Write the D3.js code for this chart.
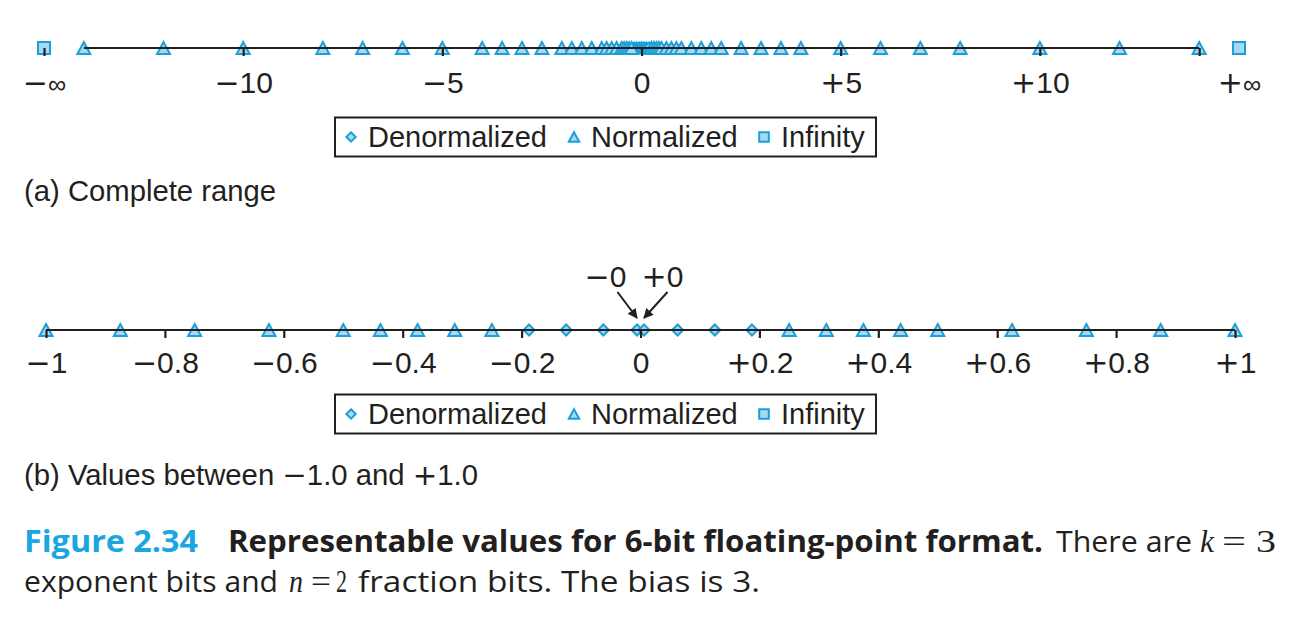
<!DOCTYPE html>
<html><head><meta charset="utf-8">
<script src="https://cdn.jsdelivr.net/npm/d3@7"></script>
<style>
body{margin:0;background:#fff;}
svg{display:block;}
</style></head>
<body>
<svg id="c" width="1314" height="618"></svg>
<script>
// ---- data ----
const denormValues = [-0.1875, -0.125, -0.0625, -0, 0, 0.0625, 0.125, 0.1875];
const normValues = [-14, -12, -10, -8, -7, -6, -5, -4, -3.5, -3, -2.5, -2, -1.75, -1.5, -1.25, -1,
  -0.875, -0.75, -0.625, -0.5, -0.4375, -0.375, -0.3125, -0.25,
  0.25, 0.3125, 0.375, 0.4375, 0.5, 0.625, 0.75, 0.875,
  1, 1.25, 1.5, 1.75, 2, 2.5, 3, 3.5, 4, 5, 6, 7, 8, 10, 12, 14];
const infinityValues = [-Infinity, Infinity];
const legendItems = ["Denormalized", "Normalized", "Infinity"];

const tickMarksA = [-15, -10, -5, 0, 5, 10, 14];
const tickLabelPosA = [-15, -10, -5, 0, 5, 10, 15];
const tickLabelsA = ["\u2212\u221e", "\u221210", "\u22125", "0", "+5", "+10", "+\u221e"];
const tickValsB = [-1, -0.8, -0.6, -0.4, -0.2, 0, 0.2, 0.4, 0.6, 0.8, 1];
const tickLabelsB = ["\u22121", "\u22120.8", "\u22120.6", "\u22120.4", "\u22120.2", "0",
  "+0.2", "+0.4", "+0.6", "+0.8", "+1"];

// ---- style ----
const STROKE = "#1a9fdb", FILL = "#a6d8f0", INK = "#231f20";
const FONT = "'Liberation Sans', Arial, sans-serif";
const SIGNFONT = "'DejaVu Sans', sans-serif";
const svg = d3.select("#c");

// split a leading sign into its own wider-glyph tspan
function signed(sel, str) {
  sel.text(null);
  const first = str.charAt(0);
  if (first === "\u2212" || first === "+") {
    sel.append("tspan").attr("font-family", SIGNFONT).text(first);
    const rest = str.slice(1);
    const t = sel.append("tspan").text(rest);
    if (rest === "\u221e") t.attr("font-size", "0.85em");
  } else sel.text(str);
}

// arrow marker
svg.append("defs").append("marker").attr("id", "ah").attr("viewBox", "0 0 10 10")
  .attr("refX", 9).attr("refY", 5).attr("markerWidth", 10).attr("markerHeight", 10)
  .attr("markerUnits", "userSpaceOnUse").attr("orient", "auto")
  .append("path").attr("d", "M0,0 L10,5 L0,10 Z").attr("fill", INK);

function shape(kind, s) {
  s = s || 1;
  if (kind === 0) { const r = 5.5 * s; return `M0,${-r}L${r},0L0,${r}L${-r},0Z`; }
  if (kind === 1) { const h = 6 * s, w = 6.5 * s; return `M0,${-h}L${w},${h}L${-w},${h}Z`; }
  const a = 6 * s; return `M${-a},${-a}H${a}V${a}H${-a}Z`;
}

function drawMarks(g, vals, kind, filter, mapV) {
  g.selectAll(null).data(vals.filter(filter)).enter().append("path")
    .attr("d", shape(kind))
    .attr("transform", d => `translate(${mapV(d)},0)`)
    .attr("fill", FILL).attr("stroke", STROKE).attr("stroke-width", 2);
}

function legend(y) {
  const g = svg.append("g").attr("transform", `translate(0,${y})`);
  g.append("rect").attr("x", 335).attr("y", -19.5).attr("width", 541).attr("height", 39)
    .attr("fill", "#fff").attr("stroke", INK).attr("stroke-width", 2);
  const mx = [351, 574, 764], tx = [368, 591, 781];
  legendItems.forEach((t, i) => {
    g.append("path").attr("d", shape(i, i === 0 ? 0.85 : 0.8)).attr("transform", `translate(${mx[i]},0)`)
      .attr("fill", FILL).attr("stroke", STROKE).attr("stroke-width", 2);
    g.append("text").attr("x", tx[i]).attr("y", 10).attr("font-family", FONT).attr("font-size", 29)
      .attr("fill", INK).text(t);
  });
}

// ---- panel (a) ----
const xa = d3.scaleLinear().domain([-15, 15]).range([44, 1239]);
const ya = 48;
const ga = svg.append("g").attr("transform", `translate(0,${ya})`);
drawMarks(ga, denormValues, 0, () => true, d => xa(d));
drawMarks(ga, normValues, 1, () => true, d => xa(d));
drawMarks(ga, infinityValues, 2, () => true, d => xa(d === -Infinity ? -15 : 15));
ga.append("line").attr("x1", xa(d3.min(normValues))).attr("x2", xa(d3.max(normValues)))
  .attr("stroke", INK).attr("stroke-width", 2.2);
const axA = ga.append("g").call(d3.axisBottom(xa).tickValues(tickMarksA).tickSize(8).tickFormat(""));
axA.select(".domain").remove();
axA.selectAll(".tick line").attr("stroke", INK).attr("stroke-width", 2.2);
const labA = ga.append("g").call(d3.axisBottom(xa).tickValues(tickLabelPosA).tickSize(0)
  .tickFormat((d, i) => tickLabelsA[i]));
labA.select(".domain").remove();
labA.selectAll("text").attr("y", 45).attr("dy", 0).attr("font-family", FONT).attr("font-size", 30).attr("fill", INK)
  .each(function () { signed(d3.select(this), this.textContent); });
legend(137);
svg.append("text").attr("x", 24).attr("y", 201).attr("font-family", FONT).attr("font-size", 29)
  .attr("fill", INK).attr("textLength", 252).attr("lengthAdjust", "spacingAndGlyphs").text("(a) Complete range");

// ---- panel (b) ----
const xb = d3.scaleLinear().domain([-1, 1]).range([46, 1235]);
const yb = 330;
const gb = svg.append("g").attr("transform", `translate(0,${yb})`);
const inB = d => d >= -1 && d <= 1;
const zeroShift = d => (d === 0 ? (Object.is(d, -0) ? -3.5 : 3.5) : 0);
drawMarks(gb, denormValues, 0, inB, d => xb(d) + zeroShift(d));
drawMarks(gb, normValues, 1, inB, d => xb(d));
gb.append("line").attr("x1", xb(-1)).attr("x2", xb(1)).attr("stroke", INK).attr("stroke-width", 2.2);
const axB = gb.append("g").call(d3.axisBottom(xb).tickValues(tickValsB).tickSize(8)
  .tickFormat((d, i) => tickLabelsB[i]));
axB.select(".domain").remove();
axB.selectAll(".tick line").attr("stroke", INK).attr("stroke-width", 2.2);
axB.selectAll("text").attr("y", 43).attr("dy", 0).attr("font-family", FONT).attr("font-size", 30).attr("fill", INK)
  .each(function () { signed(d3.select(this), this.textContent); });

// -0 / +0 annotations
const zeroLabels = [{t: "\u22120", v: -0, lx: -35, ax: -23}, {t: "+0", v: 0, lx: 22, ax: 27}];
zeroLabels.forEach(z => {
  const px = xb(0) + zeroShift(z.v);
  const tx = svg.append("text").attr("x", xb(0) + z.lx).attr("y", 287).attr("text-anchor", "middle")
    .attr("font-family", FONT).attr("font-size", 30).attr("fill", INK);
  signed(tx, z.t);
  svg.append("line").attr("x1", xb(0) + z.ax).attr("y1", 292).attr("x2", px).attr("y2", 318)
    .attr("stroke", INK).attr("stroke-width", 2).attr("marker-end", "url(#ah)");
});
legend(414);
const capB = svg.append("text").attr("x", 24).attr("y", 485).attr("font-family", FONT).attr("font-size", 29)
  .attr("fill", INK).attr("textLength", 454).attr("lengthAdjust", "spacingAndGlyphs");
capB.append("tspan").text("(b) Values between ");
capB.append("tspan").attr("font-family", SIGNFONT).text("\u2212");
capB.append("tspan").text("1.0 and ");
capB.append("tspan").attr("font-family", SIGNFONT).text("+");
capB.append("tspan").text("1.0");

// ---- figure caption ----
const CF = "'Open Sans', 'Noto Sans', sans-serif", SERIF = "'Liberation Serif', 'DejaVu Serif', serif";
function piece(t, x, w, y, opts) {
  const e = svg.append("text").attr("x", x).attr("y", y).attr("font-size", opts.size || 30)
    .attr("font-family", opts.font || CF).attr("font-weight", opts.bold ? 700 : 400)
    .attr("font-style", opts.italic ? "italic" : "normal").attr("fill", opts.color || INK).text(t);
  if (w) e.attr("textLength", w).attr("lengthAdjust", "spacingAndGlyphs");
}
piece("Figure 2.34", 24, 174, 552, {bold: true, color: "#1ba6df"});
piece("Representable values for 6-bit floating-point format.", 228, 815, 552, {bold: true});
piece("There are", 1056, 136, 552, {});
piece("k", 1200, 14, 552, {font: SERIF, italic: true, size: 32});
piece("=", 1222, 24, 552, {font: SERIF, size: 32});
piece("3", 1256, 20, 552, {font: SERIF, size: 32});
piece("exponent bits and", 24, 254, 592, {});
piece("n", 289, 14, 592, {font: SERIF, italic: true, size: 32});
piece("=", 311, 20, 592, {font: SERIF, size: 32});
piece("2", 336, 11, 592, {font: SERIF, size: 31});
piece("fraction bits. The bias is 3.", 358, 402, 592, {});
</script>
</body></html>
